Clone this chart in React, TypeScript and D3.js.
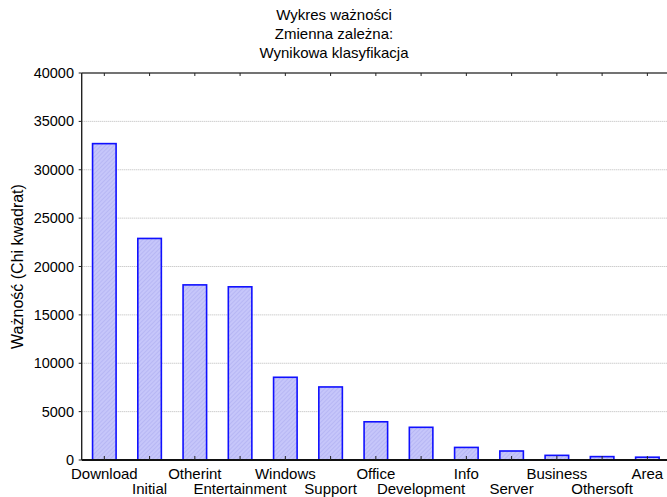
import React from "react";
import * as d3 from "d3";

const categories = ["Download","Initial","Otherint","Entertainment","Windows","Support","Office","Development","Info","Server","Business","Othersoft","Area"];
const values = [32700,22900,18100,17900,8550,7550,3950,3380,1300,930,480,350,290];
const yTicks = [0,5000,10000,15000,20000,25000,30000,35000,40000];
const titleLines = ["Wykres ważności","Zmienna zależna:","Wynikowa klasyfikacja"];
const yLabel = "Ważność (Chi kwadrat)";

const W = 667, H = 497;
const left = 81.7, right = 670, top = 73, bottom = 460;
const FONT = "Liberation Sans, Arial, sans-serif";

export default function App() {
  const x = d3.scalePoint<string>().domain(categories).range([left, right]).padding(0.5);
  const y = d3.scaleLinear().domain([0, 40000]).range([bottom, top]);
  const bw = x.step() * 0.52;
  return (
    <svg width={W} height={H} style={{ position: "fixed", left: 0, top: 0, background: "#fff" }} fontFamily={FONT}>
      <defs>
        <pattern id="hatch" width="3" height="3" patternUnits="userSpaceOnUse" patternTransform="rotate(45)">
          <rect width="3" height="3" fill="#c6c6fa" />
          <line x1="0" y1="0" x2="0" y2="3" stroke="#a9a9ee" strokeWidth="1" />
        </pattern>
      </defs>
      {titleLines.map((t, i) => (
        <text key={i} x={334} y={19.5 + i * 19} textAnchor="middle" fontSize={15} fill="#000">{t}</text>
      ))}
      {yTicks.filter(v => v > 0 && v < 40000).map(v => (
        <line key={v} x1={left} x2={W} y1={y(v)} y2={y(v)} stroke="#b8b8b8" strokeWidth={1} strokeDasharray="1,1" />
      ))}
      {categories.map((c, i) => (
        <rect key={c} x={(x(c) as number) - bw / 2} y={y(values[i])} width={bw} height={bottom - y(values[i])}
          fill="url(#hatch)" stroke="#1010ff" strokeWidth={1.6} />
      ))}
      <line x1={left} x2={W} y1={top} y2={top} stroke="#444" strokeWidth={1.6} />
      <line x1={left} x2={W} y1={bottom} y2={bottom} stroke="#111" strokeWidth={2} />
      <line x1={left} x2={left} y1={top} y2={bottom} stroke="#222" strokeWidth={1.4} />
      {categories.map(c => (
        <g key={c}>
          <line x1={x(c)} x2={x(c)} y1={top} y2={top + 3} stroke="#222" strokeWidth={1} />
          <line x1={x(c)} x2={x(c)} y1={bottom} y2={bottom - 4} stroke="#222" strokeWidth={1} />
        </g>
      ))}
      {yTicks.map(v => (
        <g key={v}>
          <line x1={left - 3} x2={left} y1={y(v)} y2={y(v)} stroke="#222" strokeWidth={1} />
          <text x={74} y={y(v) + 5} textAnchor="end" fontSize={14.5} fill="#000">{v}</text>
        </g>
      ))}
      {categories.map((c, i) => (
        <text key={c} x={x(c)} y={i % 2 === 0 ? 479 : 494} textAnchor="middle" fontSize={15} fill="#000">{c}</text>
      ))}
      <text transform={`translate(23,${(top + bottom) / 2}) rotate(-90)`} textAnchor="middle" fontSize={16} fill="#000">{yLabel}</text>
    </svg>
  );
}
